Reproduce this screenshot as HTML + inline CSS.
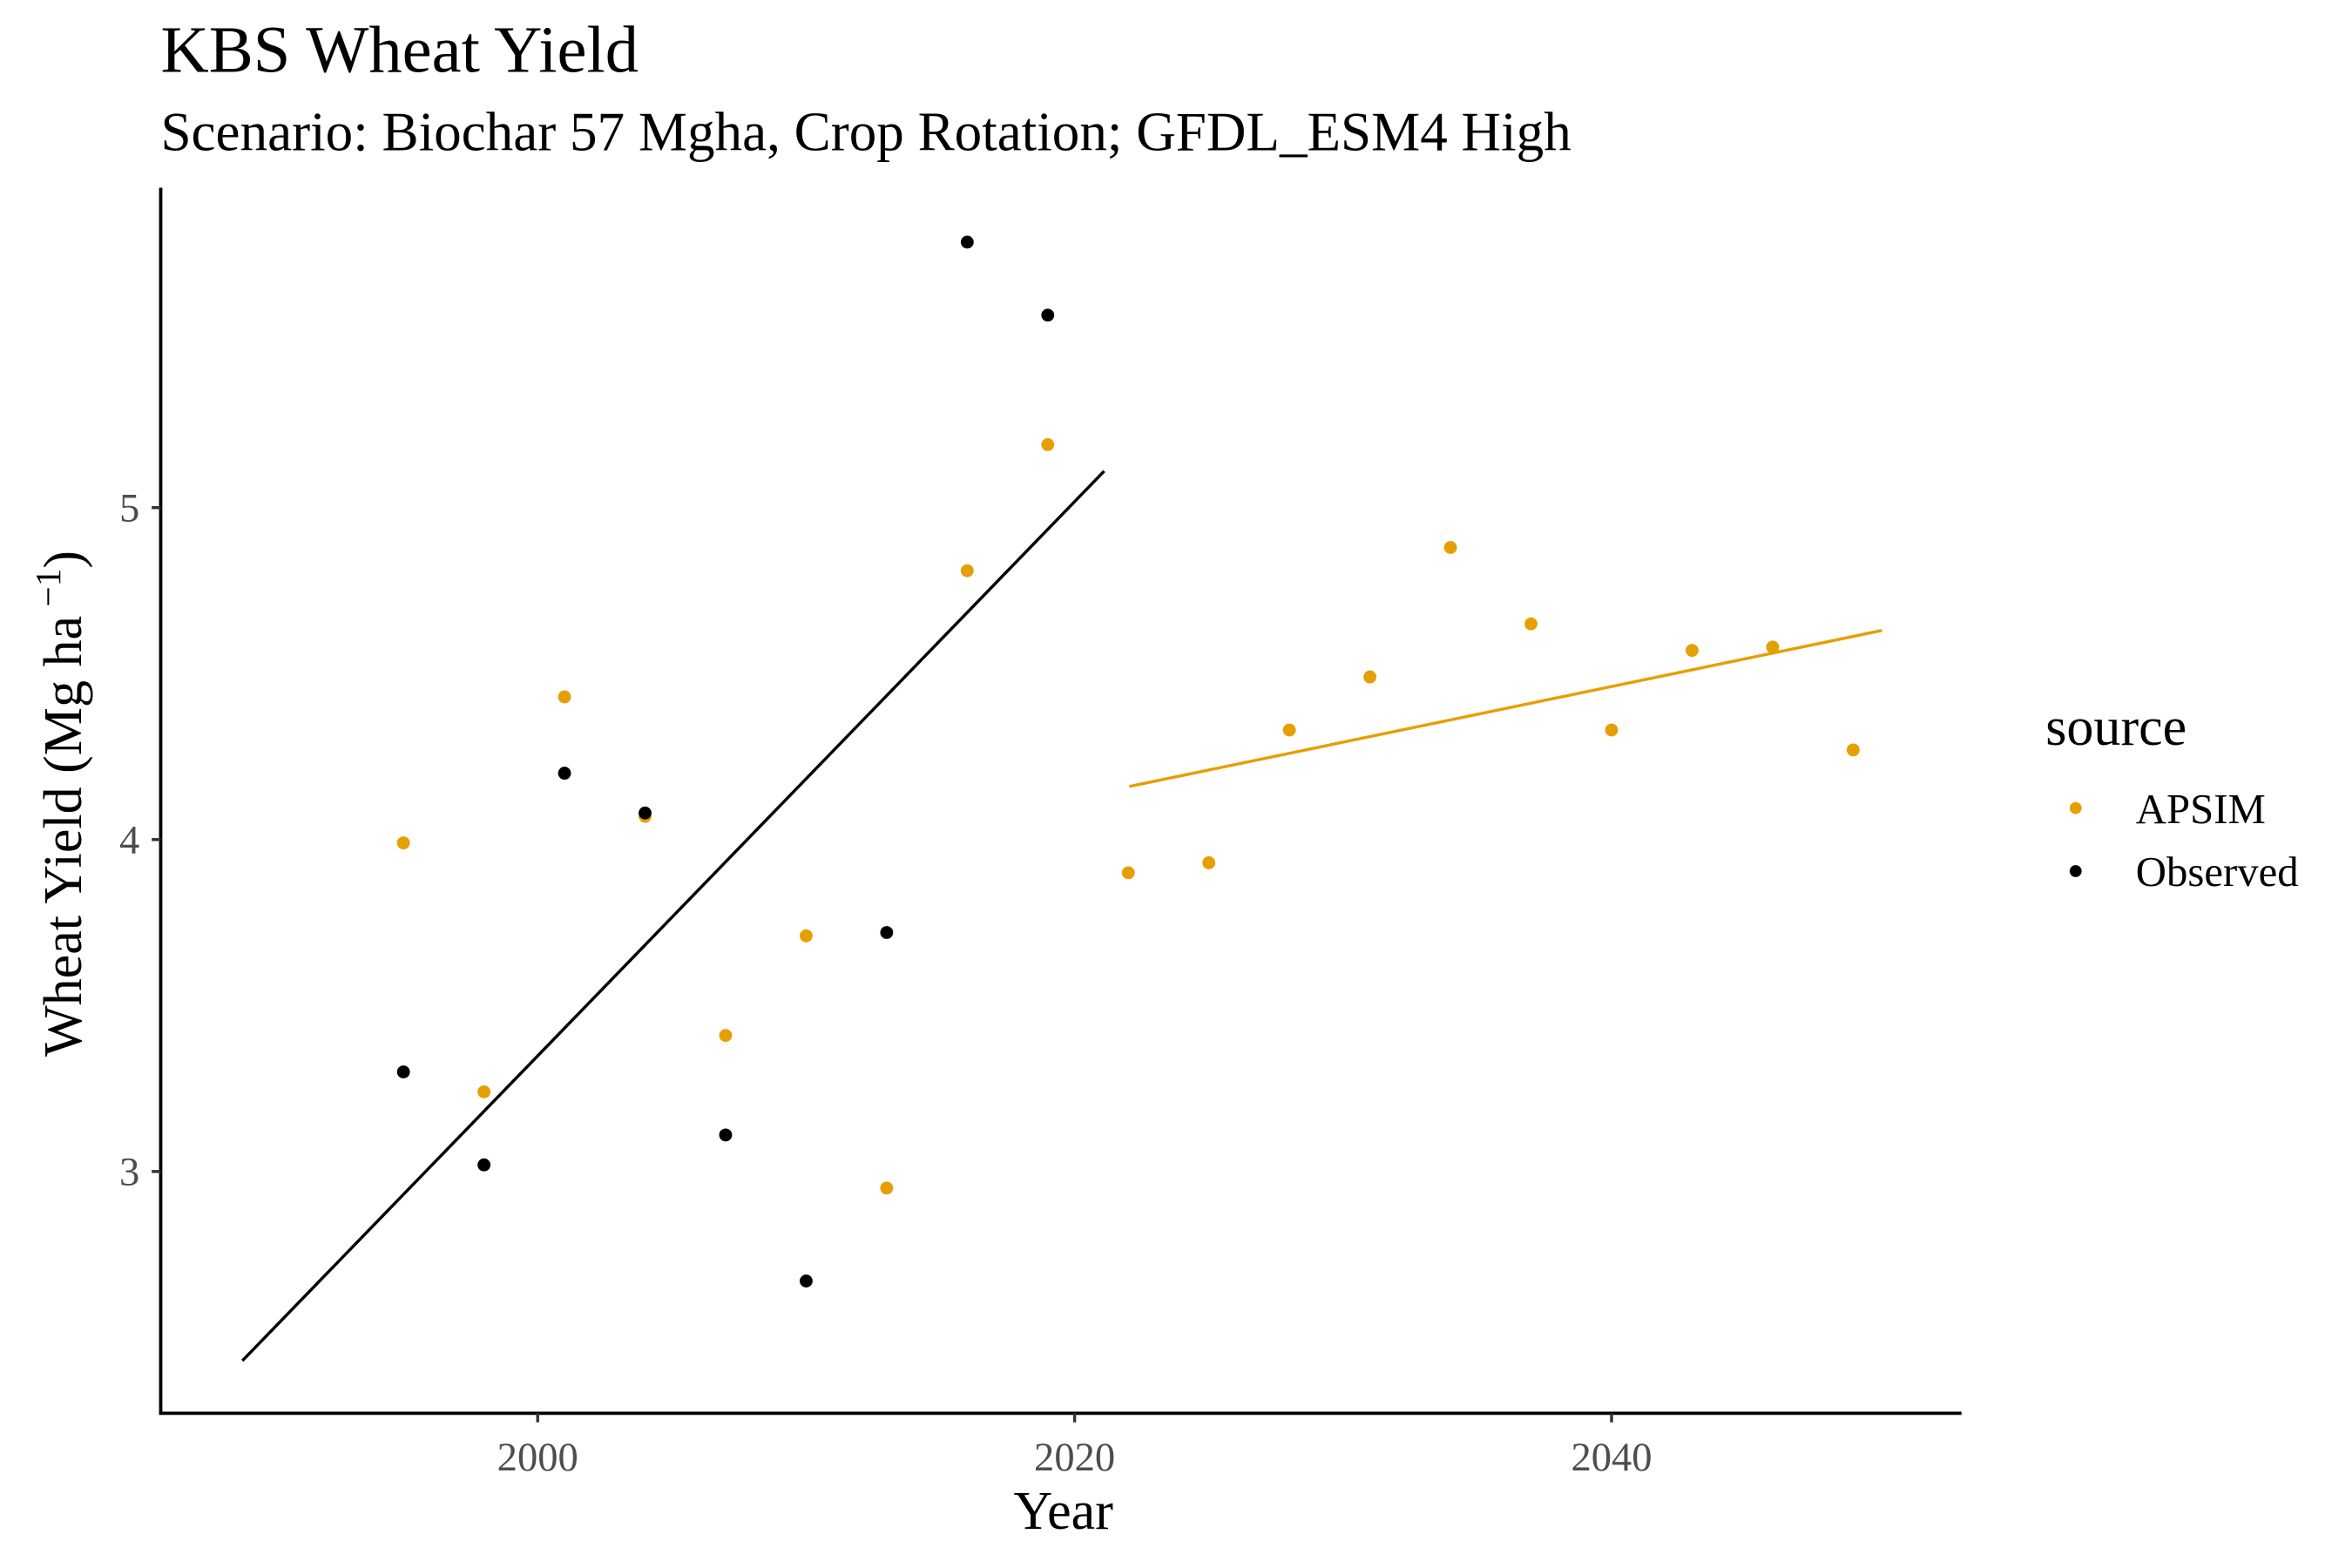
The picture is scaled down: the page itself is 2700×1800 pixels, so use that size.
<!DOCTYPE html>
<html><head><meta charset="utf-8"><style>
html,body{margin:0;padding:0;background:#fff;}
svg{display:block;font-family:"Liberation Serif",serif;}
</style></head><body>
<svg id="chart" width="2700" height="1800" viewBox="0 0 1566 1044" xmlns="http://www.w3.org/2000/svg">
<text x="107" y="48" font-size="44.4">KBS Wheat Yield</text>
<text x="107" y="100" font-size="36.6">Scenario: Biochar 57 Mgha, Crop Rotation; GFDL_ESM4 High</text>
<g id="plot"></g>
<line x1="107" y1="125" x2="107" y2="942" stroke="#000" stroke-width="2.2"/>
<line x1="106" y1="941" x2="1306" y2="941" stroke="#000" stroke-width="2.2"/>
<text x="708" y="1018" font-size="36" text-anchor="middle">Year</text>
<text transform="translate(54,535) rotate(-90)" font-size="36" text-anchor="middle">Wheat Yield (Mg ha<tspan font-size="24" dy="-14"> −1</tspan><tspan dy="14">)</tspan></text>
<g>
<text x="1362" y="496" font-size="36">source</text>
<circle cx="1382" cy="538" r="4" fill="#E69F00"/>
<text x="1422" y="548" font-size="28.3">APSIM</text>
<circle cx="1382" cy="580" r="4" fill="#000"/>
<text x="1422" y="590" font-size="28.3">Observed</text>
</g>
</svg>
<script>
const xTicks = [2000, 2020, 2040];
const yTicks = [3, 4, 5];
const apsimYears = [1995,1998,2001,2004,2007,2010,2013,2016,2019,2022,2025,2028,2031,2034,2037,2040,2043,2046,2049];
const apsimValues = [3.99,3.24,4.43,4.07,3.41,3.71,2.95,4.81,5.19,3.90,3.93,4.33,4.49,4.88,4.65,4.33,4.57,4.58,4.27];
const obsYears = [1995,1998,2001,2004,2007,2010,2013,2016,2019];
const obsValues = [3.30,3.02,4.20,4.08,3.11,2.67,3.72,5.80,5.58];
const obsTrendYears = [1989.0, 2021.1];
const obsTrendValues = [2.43, 5.11];
const apsimTrendYears = [2022.04, 2050.07];
const apsimTrendValues = [4.16, 4.63];

const NS = "http://www.w3.org/2000/svg";
const svg = document.getElementById('chart');
const plot = document.getElementById('plot');
function xs(year){ return 358 + (year - 2000) * 17.875; }
function ys(v){ return 559 - (v - 4) * 221; }
function mk(tag, attrs, parent){
  const e = document.createElementNS(NS, tag);
  for (const k in attrs) e.setAttribute(k, attrs[k]);
  (parent || plot).appendChild(e);
  return e;
}
xTicks.forEach(t => {
  const l = mk('line', {x1: xs(t), x2: xs(t), y1: 941, y2: 947, stroke: '#333', 'stroke-width': 2}, svg);
  
  
  const tx = mk('text', {x: xs(t), y: 979, 'font-size': 27, fill: '#4d4d4d', 'text-anchor': 'middle'}, svg);
  tx.textContent = t;
  
  
});
yTicks.forEach(t => {
  const l = mk('line', {x1: 101, x2: 107, y1: ys(t), y2: ys(t), stroke: '#333', 'stroke-width': 2}, svg);
  
  
  const tx = mk('text', {x: 93, y: ys(t) + 9, 'font-size': 27, fill: '#4d4d4d', 'text-anchor': 'end'}, svg);
  tx.textContent = t;
  
  
});
const t1 = mk('line', {x1: xs(obsTrendYears[0]), y1: ys(obsTrendValues[0]), x2: xs(obsTrendYears[1]), y2: ys(obsTrendValues[1]), stroke: '#000', 'stroke-width': 2});


const t2 = mk('line', {x1: xs(apsimTrendYears[0]), y1: ys(apsimTrendValues[0]), x2: xs(apsimTrendYears[1]), y2: ys(apsimTrendValues[1]), stroke: '#E69F00', 'stroke-width': 2});


apsimYears.forEach((y, i) => {
  const c = mk('circle', {cx: xs(y), cy: ys(apsimValues[i]), r: 4.3, fill: '#E69F00'});
  
  
});
obsYears.forEach((y, i) => {
  const c = mk('circle', {cx: xs(y), cy: ys(obsValues[i]), r: 4.3, fill: '#000'});
  
  
});
</script>
</body></html>
